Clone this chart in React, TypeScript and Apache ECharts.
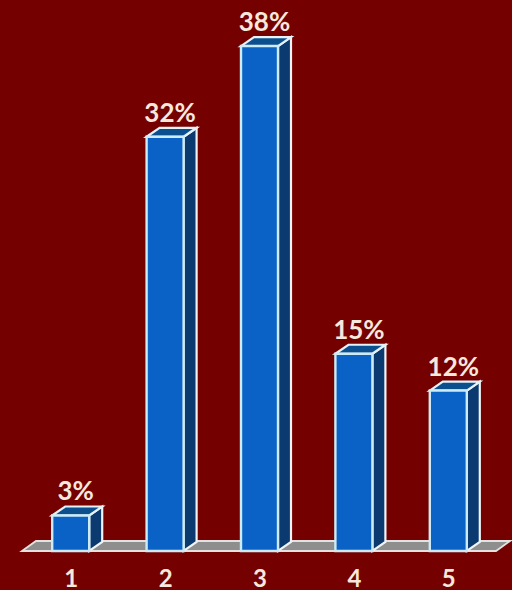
import React, { useEffect, useRef } from "react";
import * as echarts from "echarts";

const categories = ["1", "2", "3", "4", "5"];
const values = [2.7, 31.5, 38.4, 15, 12.2];
const valueLabels = ["3%", "32%", "38%", "15%", "12%"];

const DX = 13;
const DY = 9;
const TEXT = "#f6e8dc";
const EDGE = "#cdebf5";
const FONT = "Lato";

export default function App() {
  const ref = useRef<HTMLDivElement>(null);
  useEffect(() => {
    const chart = echarts.init(ref.current!, undefined, { renderer: "svg" });
    chart.setOption({
      animation: false,
      backgroundColor: "#740000",
      grid: { left: 24, right: 16, top: 25, bottom: 39 },
      xAxis: {
        type: "category",
        data: categories,
        axisLine: { show: false },
        axisTick: { show: false },
        axisLabel: { color: TEXT, fontFamily: FONT, fontWeight: "bold", fontSize: 24, margin: 14 },
      },
      yAxis: { type: "value", min: 0, max: 40, show: false },
      series: [
        {
          type: "custom",
          coordinateSystem: "cartesian2d",
          z: 1,
          data: [[0, 0]],
          renderItem: (params: any, api: any) => {
            const cs = params.coordSys;
            const base = api.coord([0, 0])[1];
            const l = cs.x - 2;
            const r = cs.x + cs.width;
            return {
              type: "polygon",
              shape: { points: [[l, base], [l + DX + 1, base - DY - 1], [r + 14, base - DY - 1], [r, base]] },
              style: { fill: "#8e8e8e", stroke: "#e4e2e0", lineWidth: 1.8 },
            };
          },
        },
        {
          type: "custom",
          coordinateSystem: "cartesian2d",
          z: 2,
          data: values.map((v, i) => [i, v]),
          renderItem: (params: any, api: any) => {
            const i = api.value(0);
            const [cx, top] = api.coord([i, api.value(1)]);
            const base = api.coord([i, 0])[1];
            const w = 37;
            const x0 = cx - w / 2 - 0.5;
            const x1 = x0 + w;
            return {
              type: "group",
              children: [
                {
                  type: "polygon",
                  shape: { points: [[x1, top], [x1 + DX, top - DY], [x1 + DX, base - DY], [x1, base]] },
                  style: { fill: "#0a3a70", stroke: "#f0f4f6", lineWidth: 2.2 },
                },
                {
                  type: "polygon",
                  shape: { points: [[x0, top], [x0 + DX, top - DY], [x1 + DX, top - DY], [x1, top]] },
                  style: { fill: "#0c4f8e", stroke: "#e6f2f6", lineWidth: 2.2 },
                },
                {
                  type: "rect",
                  shape: { x: x0, y: top, width: w, height: base - top },
                  style: { fill: "#0a62c6", stroke: EDGE, lineWidth: 2.4 },
                },
                {
                  type: "text",
                  x: x0 + w / 2 + 5,
                  y: top - DY - 3,
                  style: {
                    text: valueLabels[params.dataIndex],
                    fill: TEXT,
                    font: `bold 26px ${FONT}`,
                    align: "center",
                    verticalAlign: "bottom",
                  },
                },
              ],
            };
          },
        },
      ],
    });
    return () => chart.dispose();
  }, []);
  return <div ref={ref} style={{ position: "fixed", left: 0, top: 0, width: 512, height: 590 }} />;
}
